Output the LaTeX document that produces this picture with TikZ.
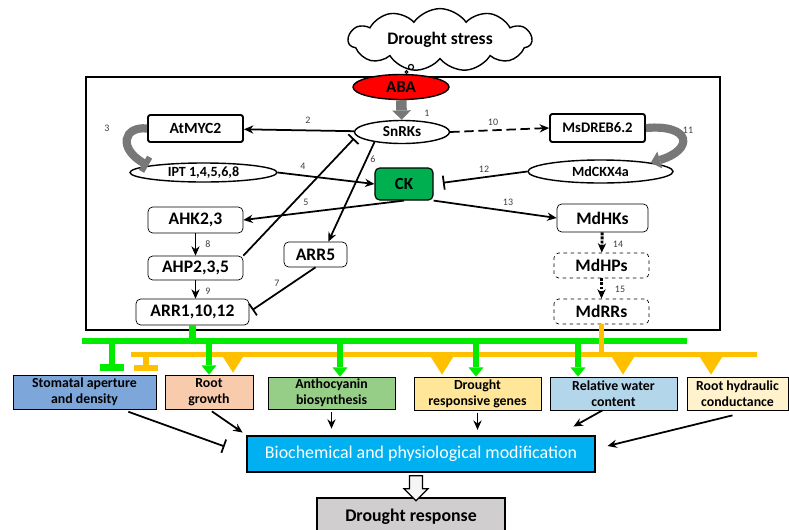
\documentclass[tikz,border=0pt]{standalone}
\usepackage{fontspec}
\setmainfont{Carlito}
\usepackage{xcolor}
\usepackage{tikz}
\usetikzlibrary{arrows.meta,shapes.geometric,shapes.symbols,shapes.arrows,calc}

\definecolor{abared}{RGB}{255,0,0}
\definecolor{ckgreen}{RGB}{0,176,80}
\definecolor{busgreen}{RGB}{0,235,0}
\definecolor{busorange}{RGB}{255,192,0}
\definecolor{stomblue}{RGB}{125,166,218}
\definecolor{rootpeach}{RGB}{248,203,173}
\definecolor{anthogreen}{RGB}{150,205,135}
\definecolor{geneyellow}{RGB}{255,230,153}
\definecolor{rwcblue}{RGB}{180,214,234}
\definecolor{hydcream}{RGB}{255,242,204}
\definecolor{biocyan}{RGB}{0,176,240}
\definecolor{respgray}{RGB}{208,206,206}
\definecolor{numgray}{RGB}{64,64,64}
\definecolor{turngray}{RGB}{120,120,120}

\begin{document}
\begin{tikzpicture}[x=0.03cm, y=-0.03cm, >={Stealth[length=8pt,width=7pt]}]
			\tikzstyle{every node}=[font=\bfseries, inner sep=0pt];
			\tikzstyle{gene}=[draw, line width=1.6pt, rounded corners=2pt, minimum width=2.85cm];
			\tikzstyle{soft}=[draw, line width=0.6pt, rounded corners=4pt, font=\bfseries\fontsize{15}{16}\selectfont];
			\tikzstyle{oval}=[draw, ellipse, line width=1.2pt];
			\tikzstyle{num}=[font=\fontsize{8.5}{9}\selectfont, text=numgray];
			\tikzstyle{link}=[line width=1.5pt, ->];
			\tikzstyle{block}=[line width=1.5pt, -{Bar[width=12pt]}];
			\tikzstyle{effect}=[draw, line width=0.6pt, align=center, font=\bfseries\fontsize{11.8}{13.6}\selectfont];
			\tikzstyle{gbus}=[busgreen, line width=5.5pt];
			\tikzstyle{obus}=[busorange, line width=4.5pt];
			\tikzstyle{bigturn}=[turngray, line width=7pt];
			
			%Page
			\useasboundingbox (0,0) rectangle (789,529);
			\clip (0,0) rectangle (789,529);
			
			%Stress
			\node[draw, cloud, cloud puffs=11, cloud puff arc=110, aspect=3.5, minimum width=5.5cm, minimum height=1.5cm, line width=1.2pt, font=\bfseries\fontsize{15}{16}\selectfont] (stress) at (440,40) {Drought stress};
			\draw[line width=1pt] (411,67) circle[radius=2.2pt];
			\draw[line width=0.8pt] (406.5,72) circle[radius=1.2pt];
			\draw[line width=2.5pt] (86,77) rectangle (720,330);
			
			%ABA signalling
			\node[oval, fill=abared, minimum width=2.88cm, minimum height=0.75cm, font=\bfseries\fontsize{14.5}{15}\selectfont] (aba) at (401,87) {ABA};
			\node[oval, minimum width=2.85cm, minimum height=0.69cm, font=\bfseries\fontsize{13}{14}\selectfont] (snrk) at (402,132) {SnRKs};
			\node[gene, minimum height=0.81cm, font=\bfseries\fontsize{13.3}{14}\selectfont] (myc) at (195.5,128.5) {AtMYC2};
			\node[gene, minimum height=0.84cm, font=\bfseries\fontsize{12.5}{13}\selectfont] (dreb) at (597.5,128) {MsDREB6.2};
			\node[oval, minimum width=4.41cm, minimum height=0.57cm, font=\bfseries\fontsize{12}{13}\selectfont] (ipt) at (203.5,172.5) {IPT 1,4,5,6,8};
			\node[oval, minimum width=4.35cm, minimum height=0.69cm, font=\bfseries\fontsize{12}{13}\selectfont] (ckx) at (600.5,171.5) {MdCKX4a};
			\node[draw, line width=1pt, fill=ckgreen, rounded corners=4pt, minimum width=1.74cm, minimum height=0.96cm, font=\bfseries\fontsize{14.5}{15}\selectfont] (ck) at (404,184) {CK};
			
			%Cytokinin cascades
			\node[soft, minimum width=2.85cm, minimum height=0.78cm] (ahk) at (195.5,220) {AHK2,3};
			\node[soft, minimum width=2.85cm, minimum height=0.72cm] (ahp) at (195.5,268) {AHP2,3,5};
			\node[soft, minimum width=3.39cm, minimum height=0.78cm] (arr1) at (192.5,312) {ARR1,10,12};
			\node[soft, minimum width=1.89cm, minimum height=0.75cm] (arr5) at (315.5,254.5) {ARR5};
			\node[soft, minimum width=2.73cm, minimum height=0.84cm] (mdhk) at (602.5,218) {MdHKs};
			\node[soft, dashed, minimum width=2.85cm, minimum height=0.75cm] (mdhp) at (601.5,265.5) {MdHPs};
			\node[soft, dashed, minimum width=2.85cm, minimum height=0.75cm] (mdrr) at (601.5,311.5) {MdRRs};
			
			%Links
			\draw[turngray, line width=9pt, -{Triangle[width=16pt,length=8pt,line width=0pt]}] (aba) -- (snrk);
			\draw[link] (snrk) -- (myc);
			\draw[bigturn, -{Bar[width=14pt,line width=5pt]}] (myc.west) .. controls (124,126) and (117,148) .. (ipt.173);
			\draw[link] (ipt.east) -- (ck.west);
			\draw[link] (ck.south) -- (ahk.east);
			\draw[link] (snrk.200) -- (arr5.45);
			\draw[block, shorten >=3pt] (ahp.north east) -- (snrk.185);
			\draw[->, line width=0.6pt] (ahk) -- (ahp);
			\draw[->, line width=0.6pt] (ahp.south) -- (ahp.south |- arr1.north);
			\draw[block, shorten >=3pt] (arr5.south) -- (arr1.east);
			\draw[link, dash pattern=on 8pt off 4pt] (snrk.east) -- (dreb.west);
			\draw[bigturn, -{Triangle[width=15pt,length=8pt,line width=0pt]}] (dreb.east) .. controls (692,124) and (694,150) .. (ckx.10);
			\draw[block, shorten >=8pt] (ckx.west) -- (ck.east);
			\draw[link] (ck.south east) -- (mdhk.west);
			\draw[->, line width=2.5pt, densely dotted] (mdhk) -- (mdhp);
			\draw[->, line width=2.5pt, densely dotted] (mdhp) -- (mdrr);
			
			%Numbers
			\node[num] (n1) at (427,113) {1};
			\node[num] (n2) at (308,120) {2};
			\node[num] (n3) at (107,128) {3};
			\node[num] (n4) at (303,166) {4};
			\node[num] (n5) at (306,202) {5};
			\node[num] (n6) at (373,159) {6};
			\node[num] (n7) at (277,283) {7};
			\node[num] (n8) at (208,244) {8};
			\node[num] (n9) at (208,291) {9};
			\node[num] (n10) at (493,122) {10};
			\node[num] (n11) at (688,130) {11};
			\node[num] (n12) at (484,169) {12};
			\node[num] (n13) at (508,202) {13};
			\node[num] (n14) at (618,244) {14};
			\node[num] (n15) at (620,289) {15};
			
			%Effects
			\node[effect, fill=stomblue, minimum width=4.29cm, minimum height=1.02cm] (stom) at (84.5,392) {Stomatal aperture\\and density};
			\node[effect, fill=rootpeach, minimum width=2.64cm, minimum height=1.02cm] (root) at (209,392) {Root\\growth};
			\node[effect, fill=anthogreen, minimum width=3.81cm, minimum height=0.96cm] (antho) at (331.5,393) {Anthocyanin\\biosynthesis};
			\node[effect, fill=geneyellow, minimum width=3.81cm, minimum height=0.99cm] (genes) at (477.5,393.5) {Drought\\responsive genes};
			\node[effect, fill=rwcblue, minimum width=3.81cm, minimum height=0.99cm] (rwc) at (613.5,393.5) {Relative water\\content};
			\node[effect, fill=hydcream, minimum width=3.03cm, minimum height=0.99cm] (hyd) at (737.5,393.5) {Root hydraulic\\conductance};
			
			%Buses
			\coordinate (gl) at (82,341);
			\coordinate (gr) at (687,341);
			\coordinate (ol) at (131,354.5);
			\coordinate (or) at (757,354.5);
			\draw[gbus] (gl) -- (gr);
			\draw[gbus] (arr1.south) -- (arr1.south |- gl);
			\draw[obus] (ol) -- (or);
			\draw[obus] (mdrr.south) -- (mdrr.south |- ol);
			
			%Orange taps
			\coordinate (o0) at (146,354.5);
			\coordinate (o1) at (233,354.5);
			\coordinate (o2) at (442,354.5);
			\coordinate (o3) at (623,354.5);
			\coordinate (o4) at (711,354.5);
			\draw[obus, -{Bar[width=20pt]}] (o0) -- ($(o0 |- stom.north)+(0,-4)$);
			\draw[obus, -{Triangle[width=19pt,length=15pt,line width=0pt]}] (o1) -- ($(o1 |- root.north)+(0,-2)$);
			\draw[obus, -{Triangle[width=19pt,length=15pt,line width=0pt]}] (o2) -- ($(o2 |- genes.north)+(0,-2)$);
			\draw[obus, -{Triangle[width=19pt,length=15pt,line width=0pt]}] (o3) -- ($(o3 |- rwc.north)+(0,-2)$);
			\draw[obus, -{Triangle[width=19pt,length=15pt,line width=0pt]}] (o4) -- ($(o4 |- hyd.north)+(0,-2)$);
			
			%Green taps
			\coordinate (g0) at (112,341);
			\coordinate (g1) at (209,341);
			\coordinate (g2) at (340,341);
			\coordinate (g3) at (476,341);
			\coordinate (g4) at (578,341);
			\draw[gbus, -{Bar[width=20pt]}] (g0) -- ($(g0 |- stom.north)+(0,-4)$);
			\draw[gbus, -{Triangle[width=13pt,length=8pt,line width=0pt]}] (g1) -- (g1 |- root.north);
			\draw[gbus, -{Triangle[width=13pt,length=8pt,line width=0pt]}] (g2) -- (g2 |- antho.north);
			\draw[gbus, -{Triangle[width=13pt,length=8pt,line width=0pt]}] (g3) -- (g3 |- genes.north);
			\draw[gbus, -{Triangle[width=13pt,length=8pt,line width=0pt]}] (g4) -- (g4 |- rwc.north);
			
			%Outcome
			\node[draw, line width=2.5pt, fill=biocyan, minimum width=10.44cm, minimum height=1.08cm, text=white, font=\fontsize{15.3}{16}\selectfont] (bio) at (421,454) {Biochemical and physiological modification};
			\node[draw, line width=2.5pt, fill=respgray, minimum width=5.64cm, minimum height=1.14cm, font=\bfseries\fontsize{15.2}{16}\selectfont] (resp) at (411,517) {Drought response};
			\node[single arrow, draw, fill=gray!8, line width=1pt, rotate=-90, inner sep=5pt, single arrow head extend=4.75pt, minimum height=0.75cm] (down) at ($(bio.south)!0.5!(resp.north)$) {};
			\draw[block, shorten <=6pt, shorten >=19pt] (stom.-25) -- (bio.west);
			\draw[link, shorten <=3pt, shorten >=3pt] (root.south) -- (bio.north west);
			\draw[link, shorten <=2pt, shorten >=5pt] (antho.south) -- (antho.south |- bio.north);
			\draw[link, shorten <=2pt, shorten >=4pt] (genes.south) -- (genes.south |- bio.north);
			\draw[link] ($(rwc.south)+(-11,0)$) -- ($(bio.north east)+(-23,-8)$);
			\draw[link] ($(hyd.south)+(-5,5)$) -- ($(bio.east)+(11,-8)$);
			\end{tikzpicture}
\end{document}
